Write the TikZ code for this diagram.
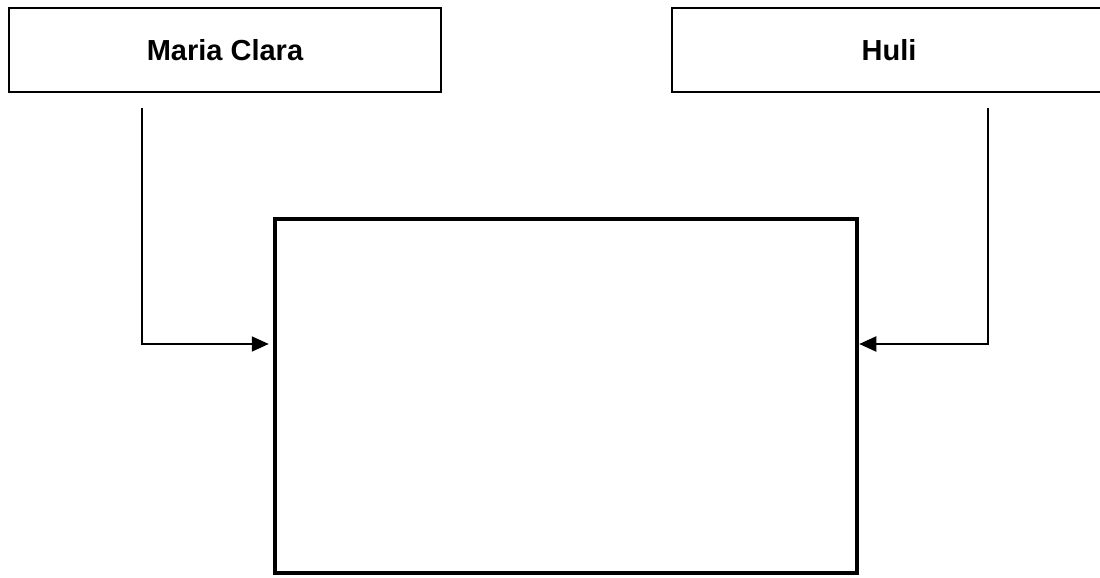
\documentclass[tikz,border=0pt]{standalone}
\usepackage{fontspec}
\setmainfont{Liberation Sans}
\usetikzlibrary{arrows.meta, positioning}

\begin{document}
\begin{tikzpicture}[
    x=1pt, y=1pt,
    namebox/.style={
        rectangle,
        draw=black,
        line width=2.2pt,
        align=center,
        minimum width=432pt,
        minimum height=84pt,
        font=\fontsize{29}{34}\selectfont\bfseries
    },
    bigbox/.style={
        rectangle,
        draw=black,
        line width=4.5pt,
        minimum width=582pt,
        minimum height=354pt
    },
    arrow/.style={-{Triangle[length=17pt, width=15pt]}, line width=2pt}
]

\useasboundingbox (0,0) rectangle (1100,578);

\node[namebox] (maria) at (225,528) {Maria Clara};
\node[namebox, minimum width=434pt] (huli) at (889,528) {Huli};
\node[bigbox] (result) at (566,182) {};

\coordinate (mstart) at (142,470);
\coordinate (mturn) at (142,234);
\coordinate (hstart) at (988,470);
\coordinate (hturn) at (988,234);

\draw[arrow, shorten >=4pt] (mstart) -- (mturn) -- (mturn -| result.west);
\draw[arrow] (hstart) -- (hturn) -- (hturn -| result.east);

\end{tikzpicture}
\end{document}
